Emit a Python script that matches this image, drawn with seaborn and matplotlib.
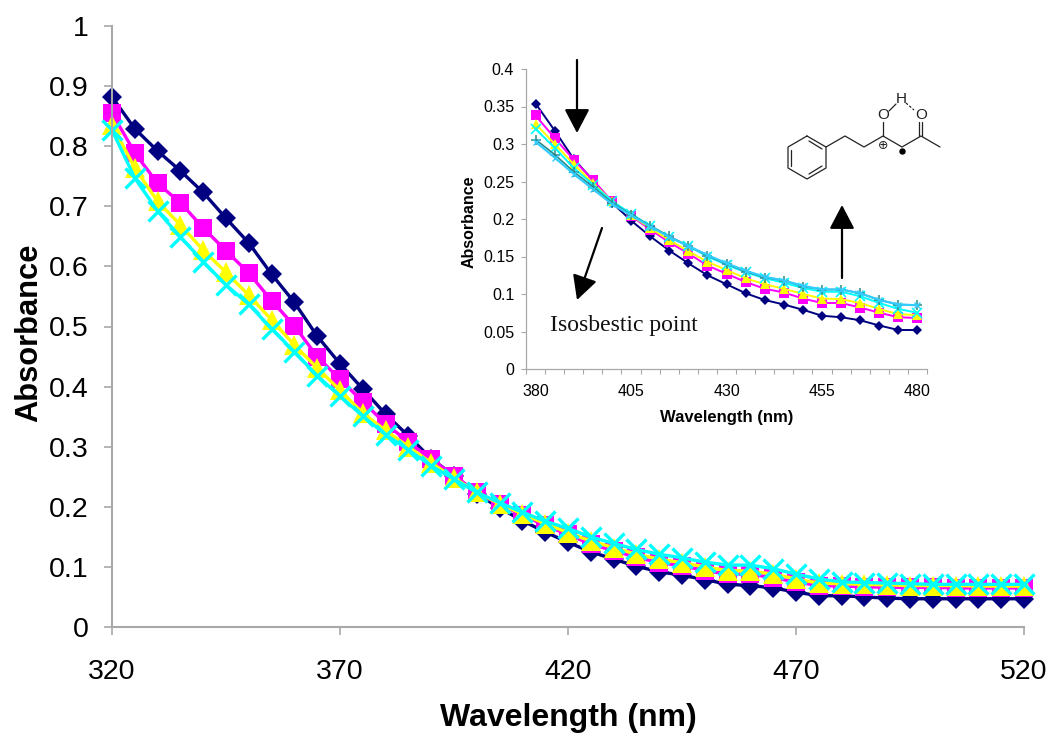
import matplotlib
matplotlib.use('Agg')
import matplotlib.pyplot as plt
import numpy as np
import seaborn as sns

# Main chart data (320-520 nm, every 5 nm)
wavelength = list(range(320, 525, 5))
navy = [0.882, 0.829, 0.792, 0.759, 0.723, 0.680, 0.639, 0.587, 0.540, 0.484, 0.438, 0.396,
        0.354, 0.318, 0.280, 0.252, 0.222, 0.198, 0.177, 0.158, 0.141, 0.125, 0.113, 0.101,
        0.092, 0.086, 0.079, 0.071, 0.069, 0.065, 0.058, 0.052, 0.052, 0.050, 0.048, 0.047,
        0.047, 0.047, 0.047, 0.047, 0.047]
magenta = [0.855, 0.789, 0.738, 0.706, 0.664, 0.626, 0.589, 0.543, 0.501, 0.450, 0.412, 0.375,
           0.338, 0.308, 0.279, 0.252, 0.224, 0.204, 0.186, 0.169, 0.154, 0.138, 0.127, 0.116,
           0.107, 0.102, 0.094, 0.088, 0.088, 0.082, 0.075, 0.069, 0.068, 0.067, 0.066, 0.066,
           0.066, 0.065, 0.065, 0.065, 0.065]
yellow = [0.835, 0.764, 0.708, 0.669, 0.627, 0.590, 0.552, 0.511, 0.469, 0.431, 0.394, 0.356,
          0.327, 0.300, 0.273, 0.248, 0.224, 0.205, 0.188, 0.172, 0.157, 0.143, 0.132, 0.121,
          0.113, 0.107, 0.100, 0.094, 0.093, 0.088, 0.080, 0.073, 0.072, 0.071, 0.070, 0.069,
          0.069, 0.069, 0.068, 0.068, 0.068]
cyan = [0.827, 0.747, 0.692, 0.649, 0.608, 0.569, 0.537, 0.496, 0.458, 0.418, 0.384, 0.351,
        0.320, 0.295, 0.268, 0.246, 0.224, 0.207, 0.191, 0.176, 0.164, 0.150, 0.139, 0.129,
        0.121, 0.115, 0.108, 0.103, 0.103, 0.097, 0.088, 0.080, 0.075, 0.074, 0.073, 0.072,
        0.071, 0.071, 0.071, 0.071, 0.071]

# Inset data (380-480 nm)
inset_wl = list(range(380, 485, 5))
in_navy = [0.354, 0.318, 0.280, 0.252, 0.222, 0.198, 0.177, 0.158, 0.141, 0.125, 0.113, 0.101,
           0.092, 0.086, 0.079, 0.071, 0.069, 0.065, 0.058, 0.052, 0.052]
in_magenta = [0.338, 0.308, 0.279, 0.252, 0.224, 0.204, 0.186, 0.169, 0.154, 0.138, 0.127, 0.116,
              0.107, 0.102, 0.094, 0.088, 0.088, 0.082, 0.075, 0.069, 0.068]
in_yellow = [0.327, 0.300, 0.273, 0.248, 0.224, 0.205, 0.188, 0.172, 0.157, 0.143, 0.132, 0.121,
             0.113, 0.107, 0.100, 0.094, 0.093, 0.088, 0.080, 0.073, 0.072]
in_cyan = [0.320, 0.295, 0.268, 0.246, 0.224, 0.207, 0.191, 0.176, 0.164, 0.150, 0.139, 0.129,
           0.121, 0.115, 0.108, 0.103, 0.103, 0.097, 0.088, 0.080, 0.075]
in_teal = [0.306, 0.286, 0.263, 0.243, 0.222, 0.206, 0.191, 0.177, 0.164, 0.151, 0.140, 0.130,
           0.122, 0.118, 0.110, 0.106, 0.106, 0.101, 0.092, 0.086, 0.085]
in_sky = [0.303, 0.282, 0.260, 0.240, 0.220, 0.205, 0.190, 0.176, 0.164, 0.152, 0.141, 0.131,
          0.123, 0.118, 0.111, 0.106, 0.106, 0.101, 0.092, 0.086, 0.085]

W, H = 1053, 735
sns.set_style('white')
plt.rcParams['font.family'] = ['Liberation Sans', 'DejaVu Sans']
plt.rcParams['text.color'] = 'black'
plt.rcParams['axes.labelcolor'] = 'black'
GRAY = '#a8a8a8'

fig = plt.figure(figsize=(W / 100, H / 100), dpi=100)


def axes_px(left, top, right, bottom):
    return fig.add_axes([left / W, 1 - bottom / H, (right - left) / W, (bottom - top) / H])


def draw(ax, x, y, color, marker, ms, lw, mew=0):
    sns.lineplot(x=x, y=y, ax=ax, color=color, marker=marker, markersize=ms, linewidth=lw,
                 markeredgewidth=mew, markeredgecolor=color, errorbar=None, clip_on=False)


def gray_axes(ax, lw):
    sns.despine(ax=ax)
    for side in ['left', 'bottom']:
        ax.spines[side].set_color(GRAY)
        ax.spines[side].set_linewidth(lw)


# Main chart
ax = axes_px(112, 26, 1024, 627)
draw(ax, wavelength, navy, '#000080', 'D', 10.5, 2.4)
draw(ax, wavelength, magenta, '#ff00ff', 's', 12.5, 2.4)
draw(ax, wavelength, yellow, '#ffff00', '^', 14, 2.4)
draw(ax, wavelength, cyan, '#00ffff', 'x', 14.5, 2.4, mew=2.4)
ax.set_xlim(320, 520)
ax.set_ylim(0, 1)
ax.set_xticks([320, 370, 420, 470, 520])
ax.set_yticks(np.arange(0, 1.01, 0.1))
ax.set_yticklabels(['0', '0.1', '0.2', '0.3', '0.4', '0.5', '0.6', '0.7', '0.8', '0.9', '1'])
ax.tick_params(axis='y', length=6, width=1.2, color=GRAY, labelsize=20.5, labelcolor='black',
               left=True, pad=11)
ax.tick_params(axis='x', length=6, width=1.2, color=GRAY, labelsize=20.5, labelcolor='black',
               bottom=True, pad=17)
ax.set_xlabel('Wavelength (nm)', fontsize=23, fontweight='bold', labelpad=13)
ax.set_ylabel('Absorbance', fontsize=22.2, fontweight='bold', y=0.49, labelpad=3.5)
gray_axes(ax, 1.5)

# Inset
ins = axes_px(526, 69, 927, 369)
draw(ins, inset_wl, in_navy, '#000080', 'D', 5, 1.4)
draw(ins, inset_wl, in_magenta, '#ff00ff', 's', 6.5, 1.4)
draw(ins, inset_wl, in_yellow, '#ffff00', '^', 7, 1.4)
draw(ins, inset_wl, in_cyan, '#00ffff', 'x', 6.5, 1.4, mew=1.2)
draw(ins, inset_wl, in_teal, '#2a8a8a', '+', 7, 1.2, mew=1.1)
draw(ins, inset_wl, in_sky, '#33ccff', 'x', 5, 1.6, mew=1)
ins.set_xlim(377.5, 482.5)
ins.set_ylim(0, 0.4)
ins.set_xticks([380, 405, 430, 455, 480])
ins.set_xticks(np.arange(377.5, 483, 5), minor=True)
ins.set_yticks(np.arange(0, 0.41, 0.05))
ins.set_yticklabels(['0', '0.05', '0.1', '0.15', '0.2', '0.25', '0.3', '0.35', '0.4'])
ins.tick_params(axis='x', which='major', length=0, labelsize=11.5, labelcolor='black', pad=11)
ins.tick_params(axis='x', which='minor', length=3.5, width=0.8, color=GRAY, bottom=True)
ins.tick_params(axis='y', length=3.5, width=0.8, color=GRAY, labelsize=11.5, labelcolor='black',
                left=True, pad=5)
ins.set_xlabel('Wavelength (nm)', fontsize=12, fontweight='bold', labelpad=8)
ins.set_ylabel('Absorbance', fontsize=11.5, fontweight='bold', y=0.49, labelpad=4.5)
gray_axes(ins, 0.9)
ins.patch.set_alpha(0)

# Overlay in pixel coordinates for arrows, label and structure
over = fig.add_axes([0, 0, 1, 1])
over.set_xlim(0, W)
over.set_ylim(H, 0)
over.axis('off')
over.patch.set_alpha(0)

for start, tip in [((577, 60), (577, 133)), ((602, 228), (577, 300)), ((842, 278), (842, 205))]:
    over.annotate('', xy=tip, xytext=start,
                  arrowprops=dict(arrowstyle='-|>,head_length=1.05,head_width=0.55', color='black',
                                  lw=1.6, shrinkA=0, shrinkB=0, mutation_scale=14))

over.text(550, 325, 'Isosbestic point', family=['Liberation Serif', 'DejaVu Serif'], fontsize=17,
          ha='left', va='center', color='#111111')

# Benzene ring and chain
ring = [(807, 136), (826, 147), (826, 168), (807, 179), (788, 168), (788, 147), (807, 136)]
chain = [(826, 147), (845, 136), (864, 147), (883, 136), (902, 147), (921, 136), (940, 147)]
bonds = [ring, chain,
         [(883, 136), (883, 122)],
         [(889, 111), (896, 104)],
         [(919, 136), (919, 122)],
         [(922, 136), (922, 122)],
         [(809, 141), (822, 149)],
         [(791, 150), (791, 166)],
         [(809, 174), (822, 166)]]
for bond in bonds:
    over.plot([p[0] for p in bond], [p[1] for p in bond], color='#222222', lw=0.9)
over.plot([906, 914], [103, 110], color='#222222', lw=0.9, ls=(0, (2, 1.5)))
for x, y, s in [(883, 115, 'O'), (901, 99, 'H'), (921, 115, 'O')]:
    over.text(x, y, s, fontsize=11, ha='center', va='center', color='#222222')
over.text(883, 145, '\u2295', family=['DejaVu Sans'], fontsize=9, ha='center', va='center', color='#222222')
over.plot([902], [151], 'o', color='black', ms=3.6)

fig.savefig('out.png', dpi=100)
